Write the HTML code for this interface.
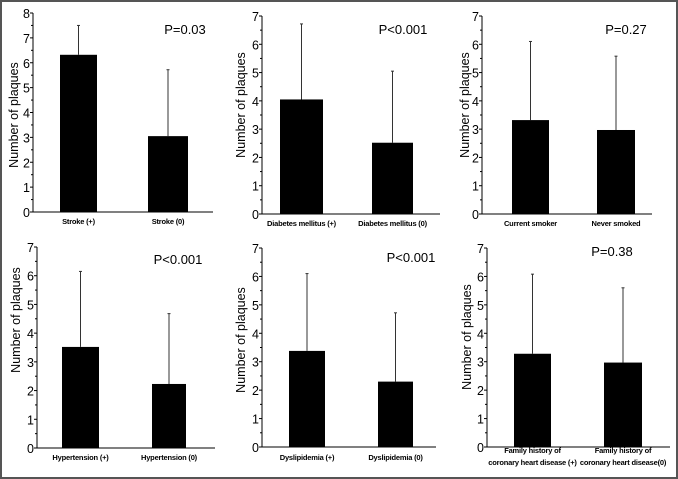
<!DOCTYPE html>
<html><head><style>body{margin:0;background:#fff}svg{display:block}</style></head>
<body>
<svg id="s" width="678" height="479" xmlns="http://www.w3.org/2000/svg" font-family="Liberation Sans, Arial, sans-serif">
<rect x="1" y="1" width="676" height="477" fill="#fff" stroke="#555" stroke-width="2"/>
</svg>
<script>
const P=[
 {ax:33,top:13,bot:212,max:8,end:213,bars:[[60,97,6.32,7.5],[148,188,3.05,5.72]],p:"P=0.03",px:185,py:34,lab:[["Stroke (+)"],["Stroke (0)"]],ly:224,yl:[15,115]},
 {ax:262,top:16,bot:214,max:7,end:440,bars:[[280,323,4.05,6.72],[372,413,2.52,5.05]],p:"P<0.001",px:403,py:34,lab:[["Diabetes mellitus (+)"],["Diabetes mellitus (0)"]],ly:226,yl:[242,105]},
 {ax:482,top:16,bot:214,max:7,end:652,bars:[[512,549,3.32,6.1],[597,635,2.97,5.58]],p:"P=0.27",px:626,py:34,lab:[["Current smoker"],["Never smoked"]],ly:226,yl:[466,105]},
 {ax:37,top:247,bot:448,max:7,end:215,bars:[[62,99,3.52,6.15],[152,186,2.23,4.68]],p:"P<0.001",px:178,py:264,lab:[["Hypertension (+)"],["Hypertension (0)"]],ly:460,yl:[17,320]},
 {ax:262,top:248,bot:447,max:7,end:436,bars:[[289,325,3.38,6.1],[378,413,2.3,4.72]],p:"P<0.001",px:411,py:262,lab:[["Dyslipidemia (+)"],["Dyslipidemia (0)"]],ly:460,yl:[242,340]},
 {ax:487,top:248,bot:447,max:7,end:670,bars:[[514,551,3.28,6.08],[604,642,2.97,5.6]],p:"P=0.38",px:612,py:256,lab:[["Family history of","coronary heart disease (+)"],["Family history of","coronary heart disease(0)"]],ly:453,yl:[468,337]}
];
let h="";
for(const c of P){
 const u=(c.bot-c.top)/c.max, Y=v=>c.bot-v*u;
 h+=`<line x1="${c.ax}" y1="${c.top}" x2="${c.ax}" y2="${c.bot}" stroke="#000" stroke-width="1"/>`;
 h+=`<line x1="${c.ax}" y1="${c.bot}" x2="${c.end}" y2="${c.bot}" stroke="#000" stroke-width="1"/>`;
 for(let i=0;i<=c.max;i++){
  h+=`<line x1="${c.ax-3}" y1="${Y(i)}" x2="${c.ax}" y2="${Y(i)}" stroke="#000"/>`;
  h+=`<text x="${c.ax-3}" y="${Y(i)+5}" font-size="12.5" text-anchor="end">${i}</text>`;
  if(i<c.max)h+=`<line x1="${c.ax-2}" y1="${Y(i+0.5)}" x2="${c.ax}" y2="${Y(i+0.5)}" stroke="#000"/>`;
 }
 c.bars.forEach((b,k)=>{
  const cx=(b[0]+b[1])/2;
  h+=`<line x1="${cx}" y1="${Y(b[3])}" x2="${cx}" y2="${Y(b[2])}" stroke="#333" stroke-width="1"/>`;
  h+=`<line x1="${cx-1.5}" y1="${Y(b[3])}" x2="${cx+1.5}" y2="${Y(b[3])}" stroke="#333"/>`;
  h+=`<rect x="${b[0]}" y="${Y(b[2])}" width="${b[1]-b[0]}" height="${c.bot-Y(b[2])}" fill="#000"/>`;
  c.lab[k].forEach((t,j)=>{h+=`<text x="${cx}" y="${c.ly+j*12}" font-size="7.5" font-weight="bold" letter-spacing="-0.2" text-anchor="middle">${t}</text>`;});
 });
 h+=`<text x="${c.px}" y="${c.py}" font-size="13" text-anchor="middle">${c.p.replace('<','&lt;')}</text>`;
 h+=`<text transform="translate(${c.yl[0]+3},${c.yl[1]}) rotate(-90)" font-size="12.5" text-anchor="middle">Number of plaques</text>`;
}
document.getElementById('s').insertAdjacentHTML('beforeend',h);
</script>
</body></html>
